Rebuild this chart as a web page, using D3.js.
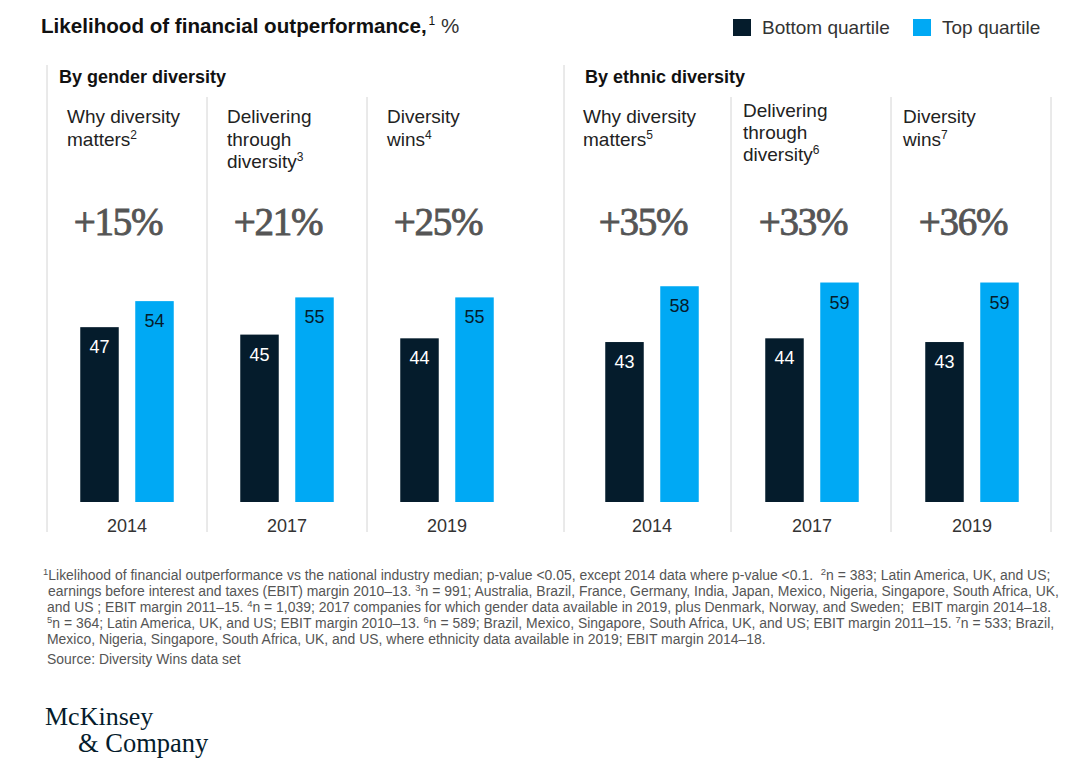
<!DOCTYPE html>
<html><head><meta charset="utf-8">
<script src="https://cdn.jsdelivr.net/npm/d3@7"></script>
<style>
body{margin:0;background:#fff}
svg{display:block}
text{white-space:pre}
</style>
</head><body>
<svg id="c" width="1091" height="769"></svg>
<script>
// ---------- data ----------
const chartTitle = "Likelihood of financial outperformance,";
const seriesNames = ["Bottom quartile", "Top quartile"];
const groupNames = ["By gender diversity", "By ethnic diversity"];
const reportLines = [
  [["Why diversity"], ["matters", "2"]],
  [["Delivering"], ["through"], ["diversity", "3"]],
  [["Diversity"], ["wins", "4"]],
  [["Why diversity"], ["matters", "5"]],
  [["Delivering"], ["through"], ["diversity", "6"]],
  [["Diversity"], ["wins", "7"]]
];
const years = ["2014", "2017", "2019", "2014", "2017", "2019"];
const bottomQuartile = [47, 45, 44, 43, 44, 43];
const topQuartile = [54, 55, 55, 58, 59, 59];
const upliftLabels = ["+15%", "+21%", "+25%", "+35%", "+33%", "+36%"];
const footnoteLines = [
  [["1", 1], ["Likelihood of financial outperformance vs the national industry median; p-value <0.05, except 2014 data where p-value <0.1.  "], ["2", 1], ["n = 383; Latin America, UK, and US;"]],
  [["earnings before interest and taxes (EBIT) margin 2010–13. "], ["3", 1], ["n = 991; Australia, Brazil, France, Germany, India, Japan, Mexico, Nigeria, Singapore, South Africa, UK,"]],
  [["and US ; EBIT margin 2011–15. "], ["4", 1], ["n = 1,039; 2017 companies for which gender data available in 2019, plus Denmark, Norway, and Sweden;  EBIT margin 2014–18."]],
  [["5", 1], ["n = 364; Latin America, UK, and US; EBIT margin 2010–13. "], ["6", 1], ["n = 589; Brazil, Mexico, Singapore, South Africa, UK, and US; EBIT margin 2011–15. "], ["7", 1], ["n = 533; Brazil,"]],
  [["Mexico, Nigeria, Singapore, South Africa, UK, and US, where ethnicity data available in 2019; EBIT margin 2014–18."]],
  [["Source: Diversity Wins data set"]]
];
const logoLines = ["McKinsey", "& Company"];

// ---------- styles ----------
const SANS = "'Liberation Sans', Arial, sans-serif";
const SERIF = "'Liberation Serif', 'Times New Roman', serif";
const DARK = "#051C2C", BLUE = "#00A9F4";
const color = d3.scaleOrdinal().domain(seriesNames).range([DARK, BLUE]);

const svg = d3.select("#c");

// helper: rich text with superscripts
function rich(sel, segs, supSize, shift) {
  let up = false;
  segs.forEach(s => {
    const isSup = s.length === 2 && typeof s[1] === "number";
    const t = sel.append("tspan").text(s[0]);
    if (isSup) {
      t.attr("font-size", supSize).attr("class", "sup");
      if (!up) { t.attr("dy", -shift); up = true; }
    } else if (up) { t.attr("dy", shift); up = false; }
  });
}

// ---------- scales ----------
const panels = d3.range(6).map(i => ({
  i, g: Math.floor(i / 3), j: i % 3,
  year: years[i], uplift: upliftLabels[i], lines: reportLines[i],
  values: [
    {key: seriesNames[0], v: bottomQuartile[i]},
    {key: seriesNames[1], v: topQuartile[i]}
  ]
}));
const groupX = d3.scaleOrdinal().domain([0, 1]).range([47, 572]);
const panelX = d3.scaleBand().domain([0, 1, 2, 3]).range([0, 640]); // step 160
const sub = d3.scaleBand().domain(seriesNames).range([-46.75, 46.75]).paddingInner(0.3);
const y = d3.scaleLinear().domain([0, 60]).range([502, 502 - 60 * 3.72]);
const center = p => groupX(p.g) + panelX(p.j) + panelX.bandwidth() / 2;

// ---------- title ----------
const title = svg.append("text").attr("x", 41).attr("y", 33)
  .attr("font-family", SANS).attr("font-size", 20.6).attr("fill", "#111");
title.append("tspan").attr("font-weight", 700).text(chartTitle);
title.append("tspan").attr("font-size", 12).attr("dy", -8).attr("dx", 2).text("1");
title.append("tspan").attr("dy", 8).attr("font-weight", 400).attr("fill", "#333").text(" %");

// ---------- legend ----------
const legX = d3.scaleOrdinal().domain(seriesNames).range([733, 913]);
const leg = svg.append("g").selectAll("g").data(seriesNames).join("g")
  .attr("transform", d => `translate(${legX(d)},19)`);
leg.append("rect").attr("width", 18).attr("height", 17).attr("fill", d => color(d));
leg.append("text").attr("x", 29).attr("y", 14.5).attr("font-family", SANS)
  .attr("font-size", 19).attr("fill", "#333").text(d => d);

// ---------- separators ----------
const lineCol = "#d4d4d4";
[47, 564].forEach(x => svg.append("line").attr("x1", x).attr("x2", x)
  .attr("y1", 65).attr("y2", 532).attr("stroke", lineCol));
[[0, 1], [0, 2], [1, 1], [1, 2], [1, 3]].forEach(([g, j]) => {
  const x = groupX(g) + panelX(j) - (g ? 1 : 0);
  svg.append("line").attr("x1", x).attr("x2", x).attr("y1", 97).attr("y2", 532).attr("stroke", lineCol);
});

// group names
svg.selectAll("text.grp").data(groupNames).join("text").attr("class", "grp")
  .attr("x", (d, g) => g ? 585 : 59).attr("y", 83)
  .attr("font-family", SANS).attr("font-weight", 700).attr("font-size", 18).attr("fill", "#111")
  .text(d => d);

// ---------- panels ----------
const pg = svg.append("g").selectAll("g").data(panels).join("g");

// report titles
pg.each(function (p) {
  const g = d3.select(this);
  const x0 = groupX(p.g) + panelX(p.j) + (p.g ? 11 : 20);
  const yTop = 123.3 - (p.i === 4 ? 6.5 : 0);
  p.lines.forEach((ln, k) => {
    const t = g.append("text").attr("x", x0).attr("y", yTop + k * 22.3)
      .attr("font-family", SANS).attr("font-size", 19).attr("fill", "#222");
    t.append("tspan").text(ln[0]);
    if (ln[1]) t.append("tspan").attr("font-size", 12).attr("dy", -7).text(ln[1]);
  });
});

// uplift
pg.append("text").attr("x", p => center(p) - 9).attr("y", 235)
  .attr("text-anchor", "middle").attr("font-family", SERIF).attr("font-size", 39)
  .attr("letter-spacing", -1.2).attr("fill", "#555").attr("stroke", "#555")
  .attr("stroke-width", 0.9).text(p => p.uplift);

// bars
const bars = pg.selectAll("g.bar").data(p => p.values.map(v => ({...v, c: center(p)}))).join("g").attr("class", "bar");
bars.append("rect")
  .attr("x", d => d.c + sub(d.key)).attr("width", sub.bandwidth())
  .attr("y", d => y(d.v)).attr("height", d => y(0) - y(d.v))
  .attr("fill", d => color(d.key));
bars.append("text")
  .attr("x", d => d.c + sub(d.key) + sub.bandwidth() / 2).attr("y", d => y(d.v) + 26)
  .attr("text-anchor", "middle").attr("font-family", SANS).attr("font-size", 18)
  .attr("fill", d => d.key === seriesNames[0] ? "#fff" : DARK).text(d => d.v);

// years
pg.append("text").attr("x", p => center(p)).attr("y", 532).attr("text-anchor", "middle")
  .attr("font-family", SANS).attr("font-size", 18).attr("fill", "#333").text(p => p.year);

// ---------- footnotes ----------
const fnBase = [580, 596, 612, 628, 644, 664];
const fnX = [43, 48, 47, 47, 47, 47];
const fn = svg.append("g").attr("font-family", SANS).attr("fill", "#555");
const fnTexts = footnoteLines.map((segs, k) => {
  const t = fn.append("text").attr("x", fnX[k]).attr("y", fnBase[k]).attr("font-size", 13);
  rich(t, segs, 9, 5);
  return t;
});
const w0 = fnTexts[0].node().getComputedTextLength();
const fs = 13 * (1052 - 43) / w0;
fnTexts.forEach(t => {
  t.attr("font-size", fs);
  t.selectAll("tspan.sup").attr("font-size", fs * 0.68);
});

// ---------- logo ----------
svg.append("text").attr("x", 45).attr("y", 725).attr("font-family", SERIF).attr("font-size", 26)
  .attr("fill", DARK).text(logoLines[0]);
svg.append("text").attr("x", 78).attr("y", 752).attr("font-family", SERIF).attr("font-size", 26.5)
  .attr("fill", DARK).text(logoLines[1]);
</script>
</body></html>
